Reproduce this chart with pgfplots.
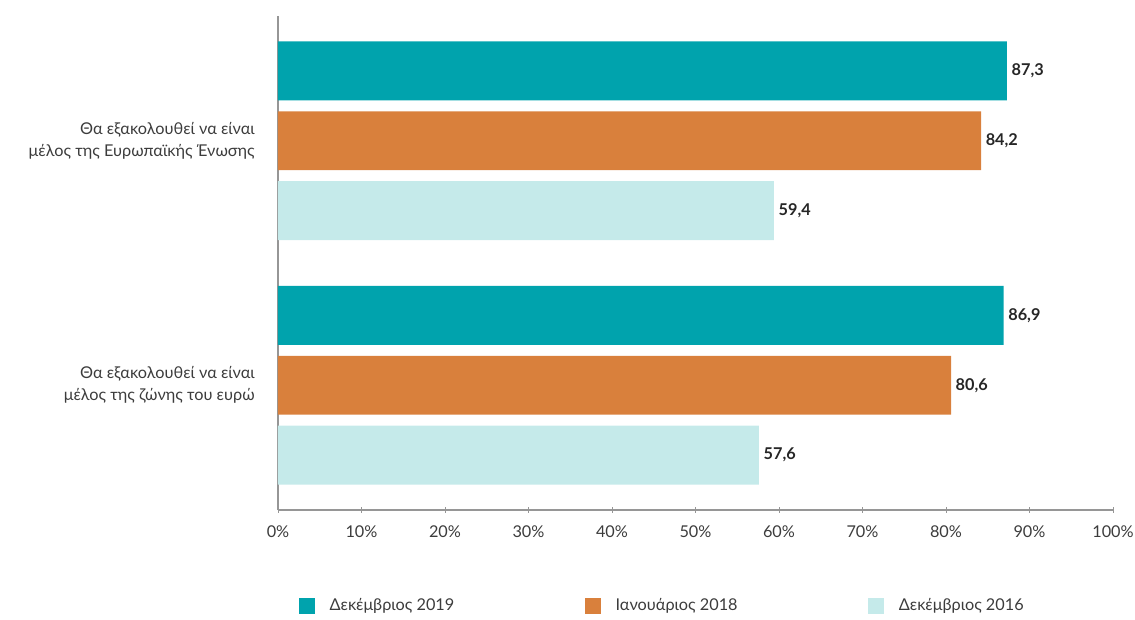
\documentclass[border=0pt]{standalone}
\usepackage{fontspec}
\setmainfont{Lato}
\usepackage{pgfplots}
\pgfplotsset{compat=1.18}

\definecolor{dec19}{RGB}{0,163,173}
\definecolor{jan18}{RGB}{217,128,60}
\definecolor{dec16}{RGB}{197,234,234}
\definecolor{axisgray}{RGB}{150,150,150}
\definecolor{txt}{RGB}{60,60,60}

\begin{document}
\begin{tikzpicture}[font=\fontsize{12.2}{16.5}\selectfont]
\useasboundingbox (-208.5pt,-81.75pt) rectangle (642.75pt,382.5pt);
\begin{axis}[
    at={(0pt,0pt)}, anchor=south west,
    scale only axis,
    width=626.25pt, height=370.5pt,
    xbar,
    xmin=0, xmax=100,
    ymin=-0.51, ymax=1.51,
    enlargelimits=false,
    axis x line=bottom, axis y line=left,
    axis line style={-, draw=axisgray, line width=0.8pt},
    xtick={0,10,...,100},
    xticklabels={0\%,10\%,20\%,30\%,40\%,50\%,60\%,70\%,80\%,90\%,100\%},
    xtick style={draw=axisgray, line width=0.6pt},
    major tick length=4pt,
    xticklabel style={text=txt, yshift=-6pt},
    ytick={0,1},
    yticklabels={{Θα εξακολουθεί να είναι\\μέλος της ζώνης του ευρώ},
                 {Θα εξακολουθεί να είναι\\μέλος της Ευρωπαϊκής Ένωσης}},
    yticklabel style={align=right, text=txt, xshift=-12pt},
    ytick style={draw=none},
    bar width=0.2408,
    point meta=x,
    nodes near coords={\textbf{\pgfmathprintnumber[fixed, precision=1, fixed zerofill, use comma, assume math mode=true]{\pgfplotspointmeta}}},
    nodes near coords style={text=black!85, anchor=west},
    legend columns=3,
    legend style={at={(axis description cs:0.02,-0.194)}, anchor=west, draw=none,
        fill=none, text=txt,
        /tikz/every odd column/.append style={column sep=9pt},
        /tikz/every even column/.append style={column sep=96pt}},
    legend cell align=left,
    legend image code/.code={\fill[#1] (0pt,-6pt) rectangle (12pt,6pt);},
]
\addplot[fill=dec19, draw=none, bar shift=0.2857] coordinates {(87.3,1) (86.9,0)};
\addplot[fill=jan18, draw=none, bar shift=0] coordinates {(84.2,1) (80.6,0)};
\addplot[fill=dec16, draw=none, bar shift=-0.2857] coordinates {(59.4,1) (57.6,0)};
\legend{Δεκέμβριος 2019, Ιανουάριος 2018, Δεκέμβριος 2016}
\end{axis}
\end{tikzpicture}
\end{document}
